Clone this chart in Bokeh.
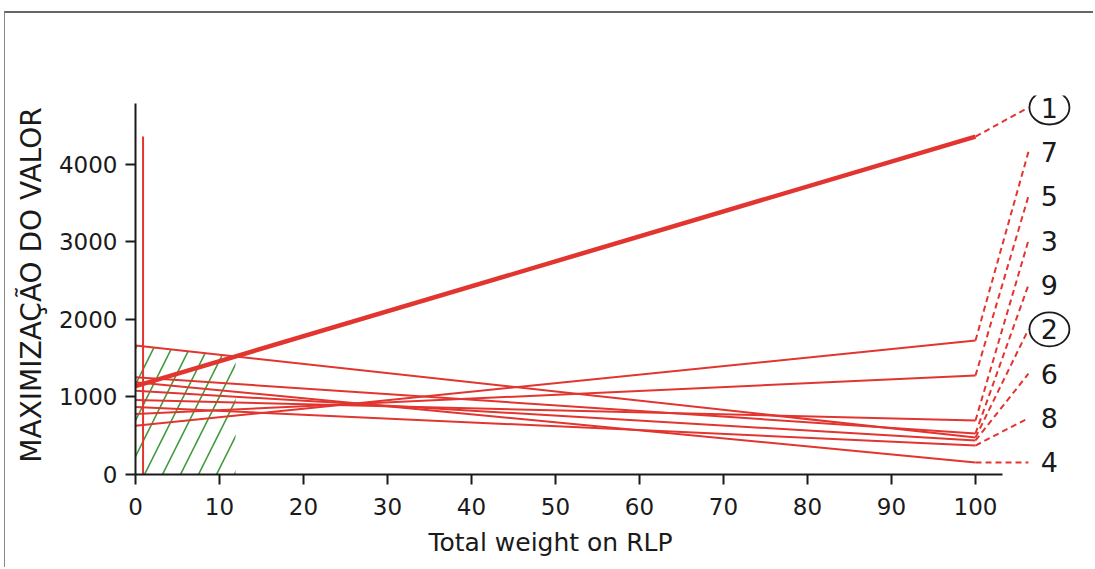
import numpy as np
from bokeh.plotting import figure
from bokeh.models import Range1d, FixedTicker, Title, ColumnDataSource
from bokeh.embed import file_html
from bokeh.resources import INLINE
from bokeh.core.properties import value

# ---- data ----
options = ["1", "2", "3", "4", "5", "6", "7", "8", "9"]
value_at_0 = [1140, 1665, 960, 1190, 780, 1080, 630, 870, 1255]      # weight on RLP = 0
value_at_100 = [4360, 477, 697, 155, 1277, 439, 1729, 374, 529]      # weight on RLP = 100
circled = ["1", "2"]
current_weight = 0.9
x_ticks = [0, 10, 20, 30, 40, 50, 60, 70, 80, 90, 100]
y_ticks = [0, 1000, 2000, 3000, 4000]

RED = "#e2352f"
GREEN = "#3f9a3c"
FONT = "DejaVu Sans"
INK = "#1a1a1a"

p = figure(width=1089, height=556,
           x_range=Range1d(0, 112.5), y_range=Range1d(0, 4890),
           output_backend="svg", toolbar_location=None,
           min_border_left=130, min_border_right=14,
           min_border_top=82, min_border_bottom=95)
p.margin = (11, 0, 0, 4)
p.styles = {"border-top": "2px solid #666", "border-left": "1px solid #888"}
p.outline_line_color = None
p.xgrid.visible = False
p.ygrid.visible = False
p.background_fill_color = "white"
p.border_fill_color = "white"

# hatched region where option 2 is the best (0 .. crossover of 1 and 2)
i1, i2 = options.index("1"), options.index("2")
s1 = (value_at_100[i1] - value_at_0[i1]) / 100.0
s2 = (value_at_100[i2] - value_at_0[i2]) / 100.0
x_cross = (value_at_0[i2] - value_at_0[i1]) / (s1 - s2)
top_cross = value_at_0[i2] + s2 * x_cross
p.patch([0, 0, x_cross, x_cross], [0, value_at_0[i2], top_cross, 0],
        fill_alpha=0, line_alpha=0,
        hatch_pattern="/", hatch_color=GREEN, hatch_scale=36, hatch_weight=1.6)

# value lines
for i, o in enumerate(options):
    p.line([0, 100], [value_at_0[i], value_at_100[i]],
           line_color=RED, line_width=4.5 if o == "1" else 2)

# current weight marker
p.line([current_weight, current_weight], [0, value_at_100[i1]], line_color=RED, line_width=2)

# labels at the right, ordered by final value
order = sorted(range(len(options)), key=lambda k: -value_at_100[k])
slots = np.linspace(4735, 155, len(options))
lab_x = 108.8
for rank, k in enumerate(order):
    p.line([100, 106.3], [value_at_100[k], slots[rank]],
           line_color=RED, line_width=2, line_dash="6 4")

lab_src = ColumnDataSource(dict(
    x=[lab_x] * len(order), y=list(slots), t=[options[k] for k in order]))
p.text("x", "y", text="t", source=lab_src, text_align="center", text_baseline="middle",
       text_font=value(FONT), text_font_size="27px", text_color=INK)

circ_y = [slots[r] for r, k in enumerate(order) if options[k] in circled]
p.ellipse([lab_x] * len(circ_y), circ_y, width=40, height=34,
          width_units="screen", height_units="screen",
          fill_alpha=0, line_color=INK, line_width=1.8)

# axes
for ax in (p.xaxis[0], p.yaxis[0]):
    ax.axis_line_width = 2
    ax.axis_line_color = INK
    ax.major_tick_line_color = INK
    ax.major_tick_line_width = 2
    ax.major_tick_out = 10
    ax.major_tick_in = 0
    ax.minor_tick_line_color = None
    ax.major_label_text_font = FONT
    ax.major_label_text_font_size = "23px"
    ax.major_label_text_color = INK

p.xaxis[0].major_label_standoff = 13
p.yaxis[0].major_label_standoff = 8
p.xaxis[0].ticker = FixedTicker(ticks=x_ticks)
p.xaxis[0].bounds = (0, 103.2)
p.yaxis[0].ticker = FixedTicker(ticks=y_ticks)
p.yaxis[0].bounds = (0, 4787)
p.yaxis[0].axis_label = "MAXIMIZAÇÃO DO VALOR"
p.yaxis[0].axis_label_text_font = FONT
p.yaxis[0].axis_label_text_font_size = "28px"
p.yaxis[0].axis_label_text_font_style = "normal"
p.yaxis[0].axis_label_text_color = INK
p.yaxis[0].axis_label_standoff = 8

p.add_layout(Title(text="Total weight on RLP", align="left", offset=293,
                   text_font=FONT, text_font_size="25px", text_font_style="normal",
                   text_color=INK, standoff=17), "below")

open("out.html", "w").write(file_html(p, INLINE))
